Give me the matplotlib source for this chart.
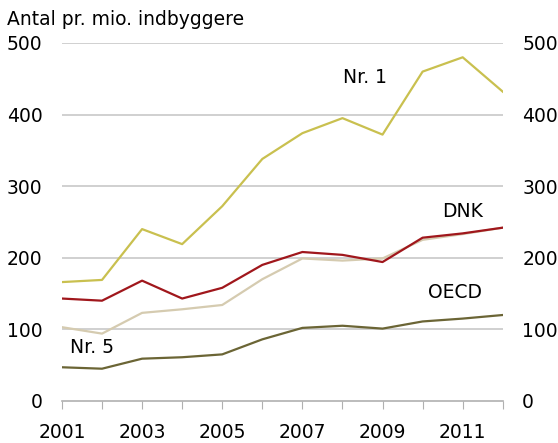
import numpy as np
import matplotlib.pyplot as plt

years = np.arange(2001, 2013)
nr1 = [166, 169, 240, 219, 272, 338, 374, 395, 372, 460, 480, 432]
dnk = [143, 140, 168, 143, 158, 190, 208, 204, 194, 228, 234, 242]
oecd = [103, 94, 123, 128, 134, 170, 199, 196, 199, 225, 233, 242]
nr5 = [47, 45, 59, 61, 65, 86, 102, 105, 101, 111, 115, 120]

fig = plt.figure(figsize=(5.58, 4.43), dpi=100)
ax = fig.add_axes([0.111, 0.095, 0.79, 0.808])

for y in range(100, 501, 100):
    ax.axhline(y, color='#c8c8c8', linewidth=1.2, zorder=0)

ax.plot(years, oecd, color='#d5cbb0', linewidth=1.6)
ax.plot(years, nr5, color='#6b6535', linewidth=1.6)
ax.plot(years, nr1, color='#c9c04f', linewidth=1.6)
ax.plot(years, dnk, color='#a0171c', linewidth=1.6)

fs = 13.5
ax.text(2008.55, 452, 'Nr. 1', fontsize=fs, ha='center', va='center')
ax.text(2011.0, 264, 'DNK', fontsize=fs, ha='center', va='center')
ax.text(2010.8, 152, 'OECD', fontsize=fs, ha='center', va='center')
ax.text(2001.2, 74, 'Nr. 5', fontsize=fs, ha='left', va='center')

ax.set_xlim(2001, 2012)
ax.set_ylim(0, 500)
ax.set_xticks(years)
ax.set_xticklabels([str(y) if y % 2 == 1 else '' for y in years], fontsize=fs)
ax.set_yticks(range(0, 501, 100))
ax.tick_params(axis='x', direction='out', length=6, color='#b0b0b0', pad=10)
ax.tick_params(axis='y', length=0, labelsize=fs, pad=14,
               labelleft=True, labelright=True)
for s in ['top', 'left', 'right']:
    ax.spines[s].set_visible(False)
ax.spines['bottom'].set_color('#b0b0b0')
ax.spines['bottom'].set_linewidth(1.2)

fig.text(0.012, 0.978, 'Antal pr. mio. indbyggere', fontsize=fs, va='top', ha='left')

fig.savefig('out.png', dpi=100)
